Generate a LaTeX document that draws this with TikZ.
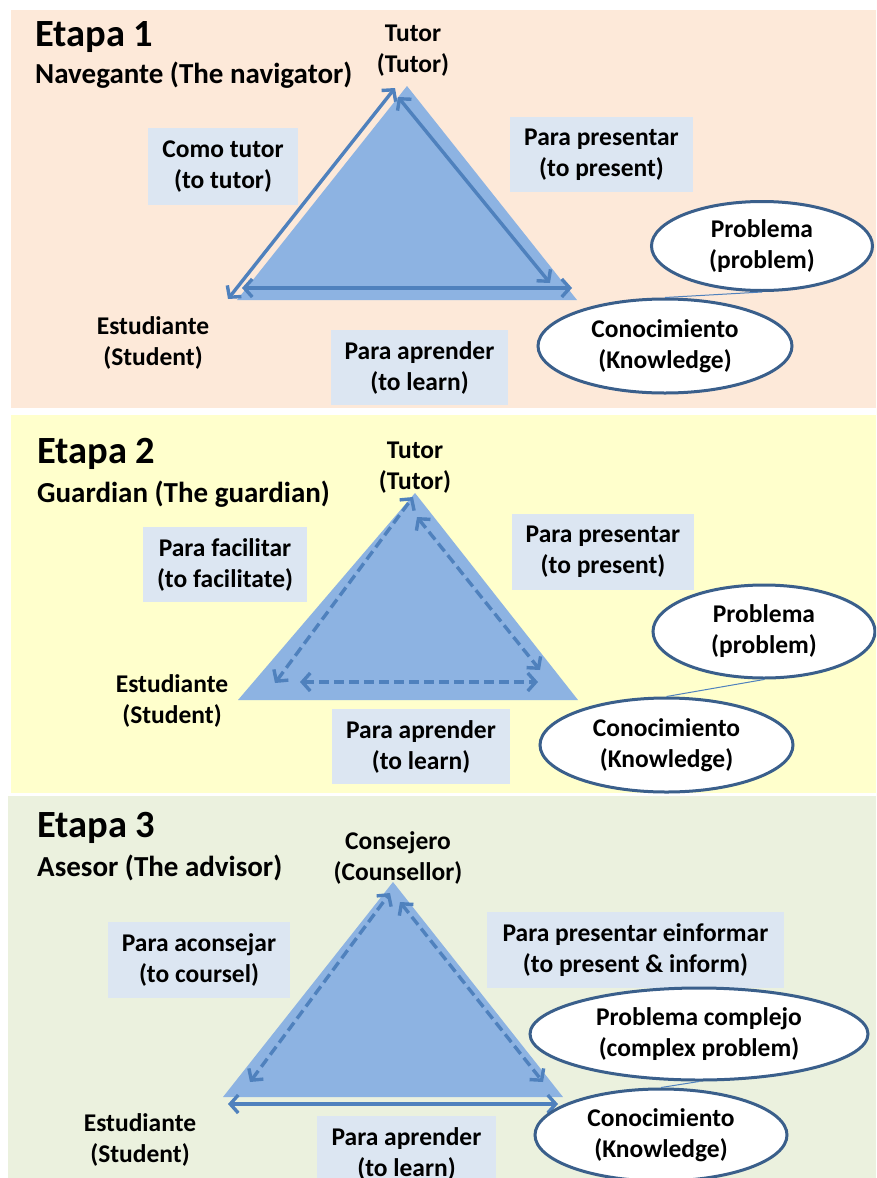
\documentclass[tikz,border=0pt]{standalone}
\usepackage{fontspec}
\setmainfont{Carlito}
\usetikzlibrary{arrows.meta,shapes.geometric}
\definecolor{bgA}{HTML}{FDE9D9}
\definecolor{bgB}{HTML}{FFFFCC}
\definecolor{bgC}{HTML}{EBF1DE}
\definecolor{trif}{HTML}{8DB3E2}
\definecolor{arr}{HTML}{4F81BD}
\definecolor{boxf}{HTML}{DCE6F2}
\definecolor{ell}{HTML}{3A5F8B}
\begin{document}
\begin{tikzpicture}[x=1pt,y=-1pt,
 txt/.style={font=\bfseries\fontsize{25.5}{31}\selectfont, align=center, inner sep=0pt},
 lbox/.style={txt, fill=boxf},
 oval/.style={txt, ellipse, draw=ell, line width=3pt, fill=white},
 head/.style={anchor=base west, inner sep=0pt, font=\bfseries\fontsize{38.5}{40}\selectfont},
 sub/.style={anchor=base west, inner sep=0pt, font=\bfseries\fontsize{29}{32}\selectfont},
 tri/.style={fill=trif},
 rel/.style={draw=arr, line width=3.4pt, {Straight Barb[length=8pt,width=18pt]}-{Straight Barb[length=8pt,width=18pt]}},
 reld/.style={rel, dash pattern=on 10pt off 5pt},
 link/.style={draw=arr, line width=1pt}]
\useasboundingbox (0,0) rectangle (876,1178);
\clip (0,0) rectangle (876,1178);
\fill[white] (0,0) rectangle (876,1178);
% panels
\fill[bgA] (11,10) rectangle (876,408);
\fill[bgB] (11,415) rectangle (876,793);
\fill[bgC] (8,796) rectangle (876,1178);

% ===== Etapa 1 =====
\node[head] (h1) at (35,46) {Etapa 1};
\node[sub] (s1) at (35,83.5) {Navegante (The navigator)};
\fill[tri] (407,86) -- (237,300) -- (577,300) -- cycle;
\coordinate (a1l) at (228,299); \coordinate (a1t) at (395,88);
\coordinate (a1r1) at (398,97); \coordinate (a1r2) at (550,283);
\coordinate (a1b1) at (242,288); \coordinate (a1b2) at (572,288);
\draw[rel] (a1l) -- (a1t);
\draw[rel] (a1r1) -- (a1r2);
\draw[rel] (a1b1) -- (a1b2);
\node[txt] (tut1) at (413,50.5) {Tutor\\(Tutor)};
\node[lbox, minimum width=150pt, minimum height=77pt] (como) at (223,166.5) {Como tutor\\(to tutor)};
\node[lbox, minimum width=183pt, minimum height=75pt] (pres1) at (601.5,154.5) {Para presentar\\(to present)};
\node[txt] (est1) at (153,342.5) {Estudiante\\(Student)};
\node[lbox, minimum width=177pt, minimum height=75pt] (apr1) at (419.5,367.5) {Para aprender\\(to learn)};
\node[oval, minimum width=221pt, minimum height=89pt] (prob1) at (762,246) {Problema\\(problem)};
\node[oval, minimum width=254pt, minimum height=94pt] (con1) at (665,346) {Conocimiento\\(Knowledge)};
\draw[link] (con1.north) -- (prob1.south);

% ===== Etapa 2 =====
\node[head] (h2) at (37,463) {Etapa 2};
\node[sub] (s2) at (37,502) {Guardian (The guardian)};
\fill[tri] (415,493) -- (238,700) -- (578,700) -- cycle;
\coordinate (a2l) at (275,683); \coordinate (a2t) at (413,497);
\coordinate (a2r1) at (417,517); \coordinate (a2r2) at (540,670);
\coordinate (a2b1) at (300,682); \coordinate (a2b2) at (538,682);
\draw[reld] (a2l) -- (a2t);
\draw[reld] (a2r1) -- (a2r2);
\draw[reld] (a2b1) -- (a2b2);
\node[txt] (tut2) at (415,467.5) {Tutor\\(Tutor)};
\node[lbox, minimum width=164pt, minimum height=75pt] (faci) at (225,564.5) {Para facilitar\\(to facilitate)};
\node[lbox, minimum width=182pt, minimum height=76pt] (pres2) at (603,552) {Para presentar\\(to present)};
\node[txt] (est2) at (172,700.5) {Estudiante\\(Student)};
\node[lbox, minimum width=178pt, minimum height=75pt] (apr2) at (421,746.5) {Para aprender\\(to learn)};
\node[oval, minimum width=222pt, minimum height=93pt] (prob2) at (764,631.5) {Problema\\(problem)};
\node[oval, minimum width=253pt, minimum height=94pt] (con2) at (666.5,745) {Conocimiento\\(Knowledge)};
\draw[link] (con2.north) -- (prob2.south);

% ===== Etapa 3 =====
\node[head] (h3) at (37,837) {Etapa 3};
\node[sub] (s3) at (37,876) {Asesor (The advisor)};
\fill[tri] (393,882) -- (223,1097) -- (563,1097) -- cycle;
\coordinate (a3l) at (250,1082); \coordinate (a3t) at (390,893);
\coordinate (a3r1) at (400,902); \coordinate (a3r2) at (543,1082);
\coordinate (a3b1) at (228,1104); \coordinate (a3b2) at (558,1104);
\draw[reld] (a3l) -- (a3t);
\draw[reld] (a3r1) -- (a3r2);
\draw[rel] (a3b1) -- (a3b2);
\node[txt] (cons) at (398,857.5) {Consejero\\(Counsellor)};
\node[lbox, minimum width=182pt, minimum height=76pt] (acon) at (199,960) {Para aconsejar\\(to coursel)};
\node[lbox, minimum width=297pt, minimum height=76pt] (pres3) at (635.5,950) {Para presentar einformar\\(to present \& inform)};
\node[txt] (est3) at (140,1139.5) {Estudiante\\(Student)};
\node[lbox, minimum width=179pt, minimum height=76pt] (apr3) at (406.5,1154) {Para aprender\\(to learn)};
\node[oval, minimum width=338pt, minimum height=92pt] (prob3) at (699,1034) {Problema complejo\\(complex problem)};
\node[oval, minimum width=252pt, minimum height=92pt] (con3) at (661,1135) {Conocimiento\\(Knowledge)};
\draw[link] (con3.north) -- (prob3.south);
\end{tikzpicture}
\end{document}
